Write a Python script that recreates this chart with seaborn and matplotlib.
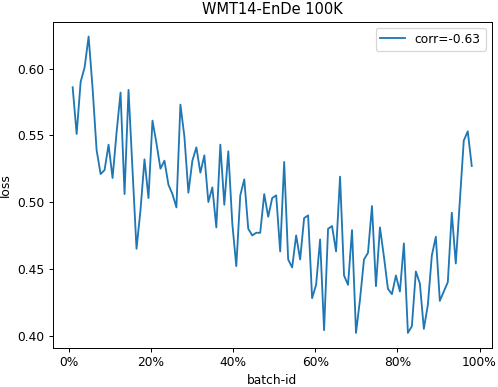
import numpy as np
import pandas as pd
import seaborn as sns
import matplotlib.pyplot as plt
from matplotlib.ticker import PercentFormatter

# loss per batch
loss = [
    0.586, 0.551, 0.590, 0.601, 0.624, 0.585, 0.539, 0.521, 0.524, 0.543,
    0.518, 0.552, 0.582, 0.506, 0.584, 0.524, 0.465, 0.494, 0.532, 0.503,
    0.561, 0.544, 0.525, 0.531, 0.513, 0.506, 0.496, 0.573, 0.549, 0.507,
    0.531, 0.541, 0.522, 0.535, 0.500, 0.511, 0.481, 0.543, 0.498, 0.538,
    0.484, 0.452, 0.505, 0.517, 0.480, 0.475, 0.477, 0.477, 0.506, 0.489,
    0.503, 0.505, 0.463, 0.530, 0.457, 0.451, 0.475, 0.457, 0.488, 0.490,
    0.428, 0.438, 0.472, 0.404, 0.480, 0.482, 0.463, 0.519, 0.445, 0.438,
    0.479, 0.402, 0.427, 0.457, 0.462, 0.497, 0.437, 0.481, 0.459, 0.435,
    0.431, 0.445, 0.433, 0.469, 0.402, 0.407, 0.448, 0.439, 0.405, 0.423,
    0.460, 0.474, 0.426, 0.433, 0.440, 0.492, 0.454, 0.500, 0.546, 0.553,
    0.527,
]
batch_first, batch_last = 0.009, 0.981
title = "WMT14-EnDe 100K"
legend_label = "corr=-0.63"

df = pd.DataFrame({
    "batch": np.linspace(batch_first, batch_last, len(loss)),
    "loss": loss,
})

dpi = 88
fig = plt.figure(figsize=(498 / dpi, 387 / dpi), dpi=dpi)
ax = fig.add_axes([52.7 / 498, 1 - 347.7 / 387, 439 / 498, 326 / 387])

sns.lineplot(data=df, x="batch", y="loss", ax=ax, color="#1f77b4",
             linewidth=1.5, label=legend_label)

ax.xaxis.set_major_formatter(PercentFormatter(1.0, decimals=0))
ax.set_xticks([0, 0.2, 0.4, 0.6, 0.8, 1.0])
ax.set_yticks([0.40, 0.45, 0.50, 0.55, 0.60])
ax.set_xlabel("batch-id")
ax.set_ylabel("loss")
ax.set_title(title)
ax.legend(loc="upper right")

fig.savefig("out.png", dpi=dpi)
